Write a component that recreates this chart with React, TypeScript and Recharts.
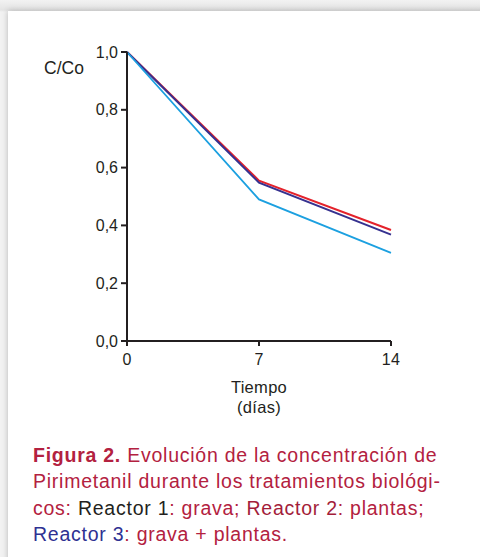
import React from "react";
import { LineChart, Line, XAxis, YAxis } from "recharts";

const dias = [0, 7, 14];
const reactor1 = [1.0, 0.49, 0.305]; // grava (light blue)
const reactor2 = [1.0, 0.555, 0.384]; // plantas (red)
const reactor3 = [1.0, 0.548, 0.368]; // grava + plantas (navy)
const yTicks = [0, 0.2, 0.4, 0.6, 0.8, 1.0];
const xTicks = [0, 7, 14];

const data = dias.map((d, i) => ({
  dia: d,
  r1: reactor1[i],
  r2: reactor2[i],
  r3: reactor3[i],
}));

const FONT = "'Liberation Sans', Arial, sans-serif";
const CRIMSON = "#b32140";

export default function App() {
  return (
    <div
      style={{
        position: "fixed",
        left: 0,
        top: 0,
        width: 480,
        height: 557,
        overflow: "hidden",
        background: "linear-gradient(#f2f2f2, #e4e4e4 10px, #f2f2f2 12px)",
        fontFamily: FONT,
      }}
    >
      <div
        style={{
          position: "absolute",
          left: 8,
          top: 11,
          width: 490,
          height: 560,
          background: "#ffffff",
          boxShadow: "0 0 6px rgba(0,0,0,0.25)",
        }}
      />
      <div style={{ position: "absolute", left: 0, top: 0 }}>
        <LineChart
          width={480}
          height={420}
          data={data}
          margin={{ top: 52, right: 89, left: 67, bottom: 49 }}
        >
          <XAxis
            dataKey="dia"
            type="number"
            domain={[0, 14]}
            ticks={xTicks}
            height={30}
            tickSize={5}
            tickMargin={8}
            stroke="#231f20"
            strokeWidth={2}
            tick={{ fill: "#231f20", fontSize: 16, fontFamily: FONT, letterSpacing: 0.3 }}
          />
          <YAxis
            type="number"
            domain={[0, 1]}
            ticks={yTicks}
            width={60}
            tickSize={6}
            tickMargin={3}
            stroke="#231f20"
            strokeWidth={2}
            tickFormatter={(v: number) => v.toFixed(1).replace(".", ",")}
            tick={{ fill: "#231f20", fontSize: 16, fontFamily: FONT }}
          />
          <Line dataKey="r2" stroke="#e4222b" strokeWidth={2} dot={false} isAnimationActive={false} />
          <Line dataKey="r3" stroke="#36318f" strokeWidth={2} dot={false} isAnimationActive={false} />
          <Line dataKey="r1" stroke="#1ca0e0" strokeWidth={1.8} dot={false} isAnimationActive={false} />
        </LineChart>
      </div>
      <div style={{ position: "absolute", left: 44, top: 58, fontSize: 17.5, color: "#231f20" }}>C/Co</div>
      <div
        style={{
          position: "absolute",
          left: 209,
          top: 377,
          width: 100,
          textAlign: "center",
          fontSize: 16.5,
          letterSpacing: 0.3,
          lineHeight: "20px",
          color: "#231f20",
        }}
      >
        Tiempo
        <br />
        (días)
      </div>
      <div
        style={{
          position: "absolute",
          left: 33,
          top: 442,
          width: 445,
          fontSize: 19.5,
          letterSpacing: 0.75,
          lineHeight: "26.3px",
          color: CRIMSON,
          whiteSpace: "nowrap",
        }}
      >
        <b>Figura 2.</b> Evolución de la concentración de
        <br />
        Pirimetanil durante los tratamientos biológi-
        <br />
        cos: <span style={{ color: "#231f20" }}>Reactor 1</span>: grava;{" "}
        <span style={{ color: "#a31d3a" }}>Reactor 2</span>: plantas;
        <br />
        <span style={{ color: "#2e3192" }}>Reactor 3</span>: grava + plantas.
      </div>
    </div>
  );
}
